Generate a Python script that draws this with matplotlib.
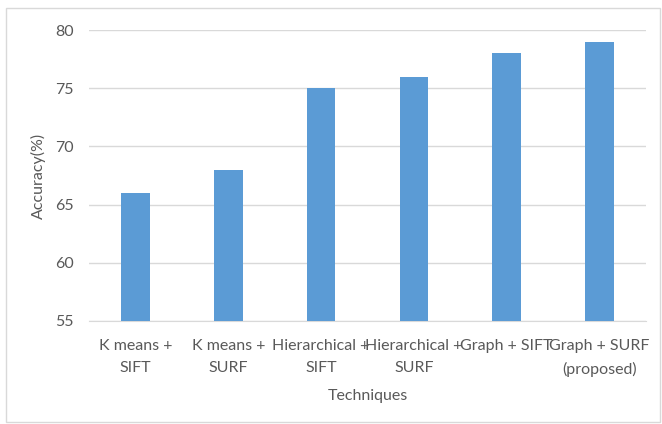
import matplotlib.pyplot as plt
from matplotlib.patches import Rectangle

categories = ["K means +\nSIFT", "K means +\nSURF", "Hierarchical +\nSIFT",
              "Hierarchical +\nSURF", "Graph + SIFT", "Graph + SURF\n(proposed)"]
accuracy = [66, 68, 75, 76, 78, 79]
yticks = [55, 60, 65, 70, 75, 80]

plt.rcParams['font.family'] = ['Lato', 'DejaVu Sans']

W, H = 662, 424
fig = plt.figure(figsize=(W / 100, H / 100), dpi=100)
ax = fig.add_axes([89 / W, 1 - 321 / H, (646 - 89) / W, (321 - 30) / H])

x = range(len(categories))
ax.bar(x, accuracy, width=0.31, color='#5B9BD5', zorder=3)
ax.set_ylim(55, 80)
ax.set_xlim(-0.5, len(categories) - 0.5)
ax.set_yticks(yticks)
ax.set_xticks(list(x))
ax.set_xticklabels(categories, fontsize=11.5, color='#595959', linespacing=1.75)
ax.tick_params(axis='y', labelsize=11.5, labelcolor='#595959', length=0, pad=11)
ax.tick_params(axis='x', length=0, pad=13)
ax.grid(axis='y', color='#D9D9D9', linewidth=1, zorder=0)
for side in ['left', 'right', 'top']:
    ax.spines[side].set_visible(False)
ax.spines['bottom'].set_color('#D9D9D9')

ax.set_ylabel('Accuracy(%)', fontsize=11.5, color='#595959')
ax.yaxis.set_label_coords((46 - 89) / (646 - 89), 0.5)
fig.text(368 / W, 1 - 396 / H, 'Techniques', fontsize=11.5, color='#595959',
         ha='center', va='center')

fig.patches.append(Rectangle((6 / W, 1 - 422 / H), (660 - 6) / W, (422 - 8) / H,
                             transform=fig.transFigure, fill=False,
                             edgecolor='#D9D9D9', linewidth=1))

fig.savefig('out.png', dpi=100)
